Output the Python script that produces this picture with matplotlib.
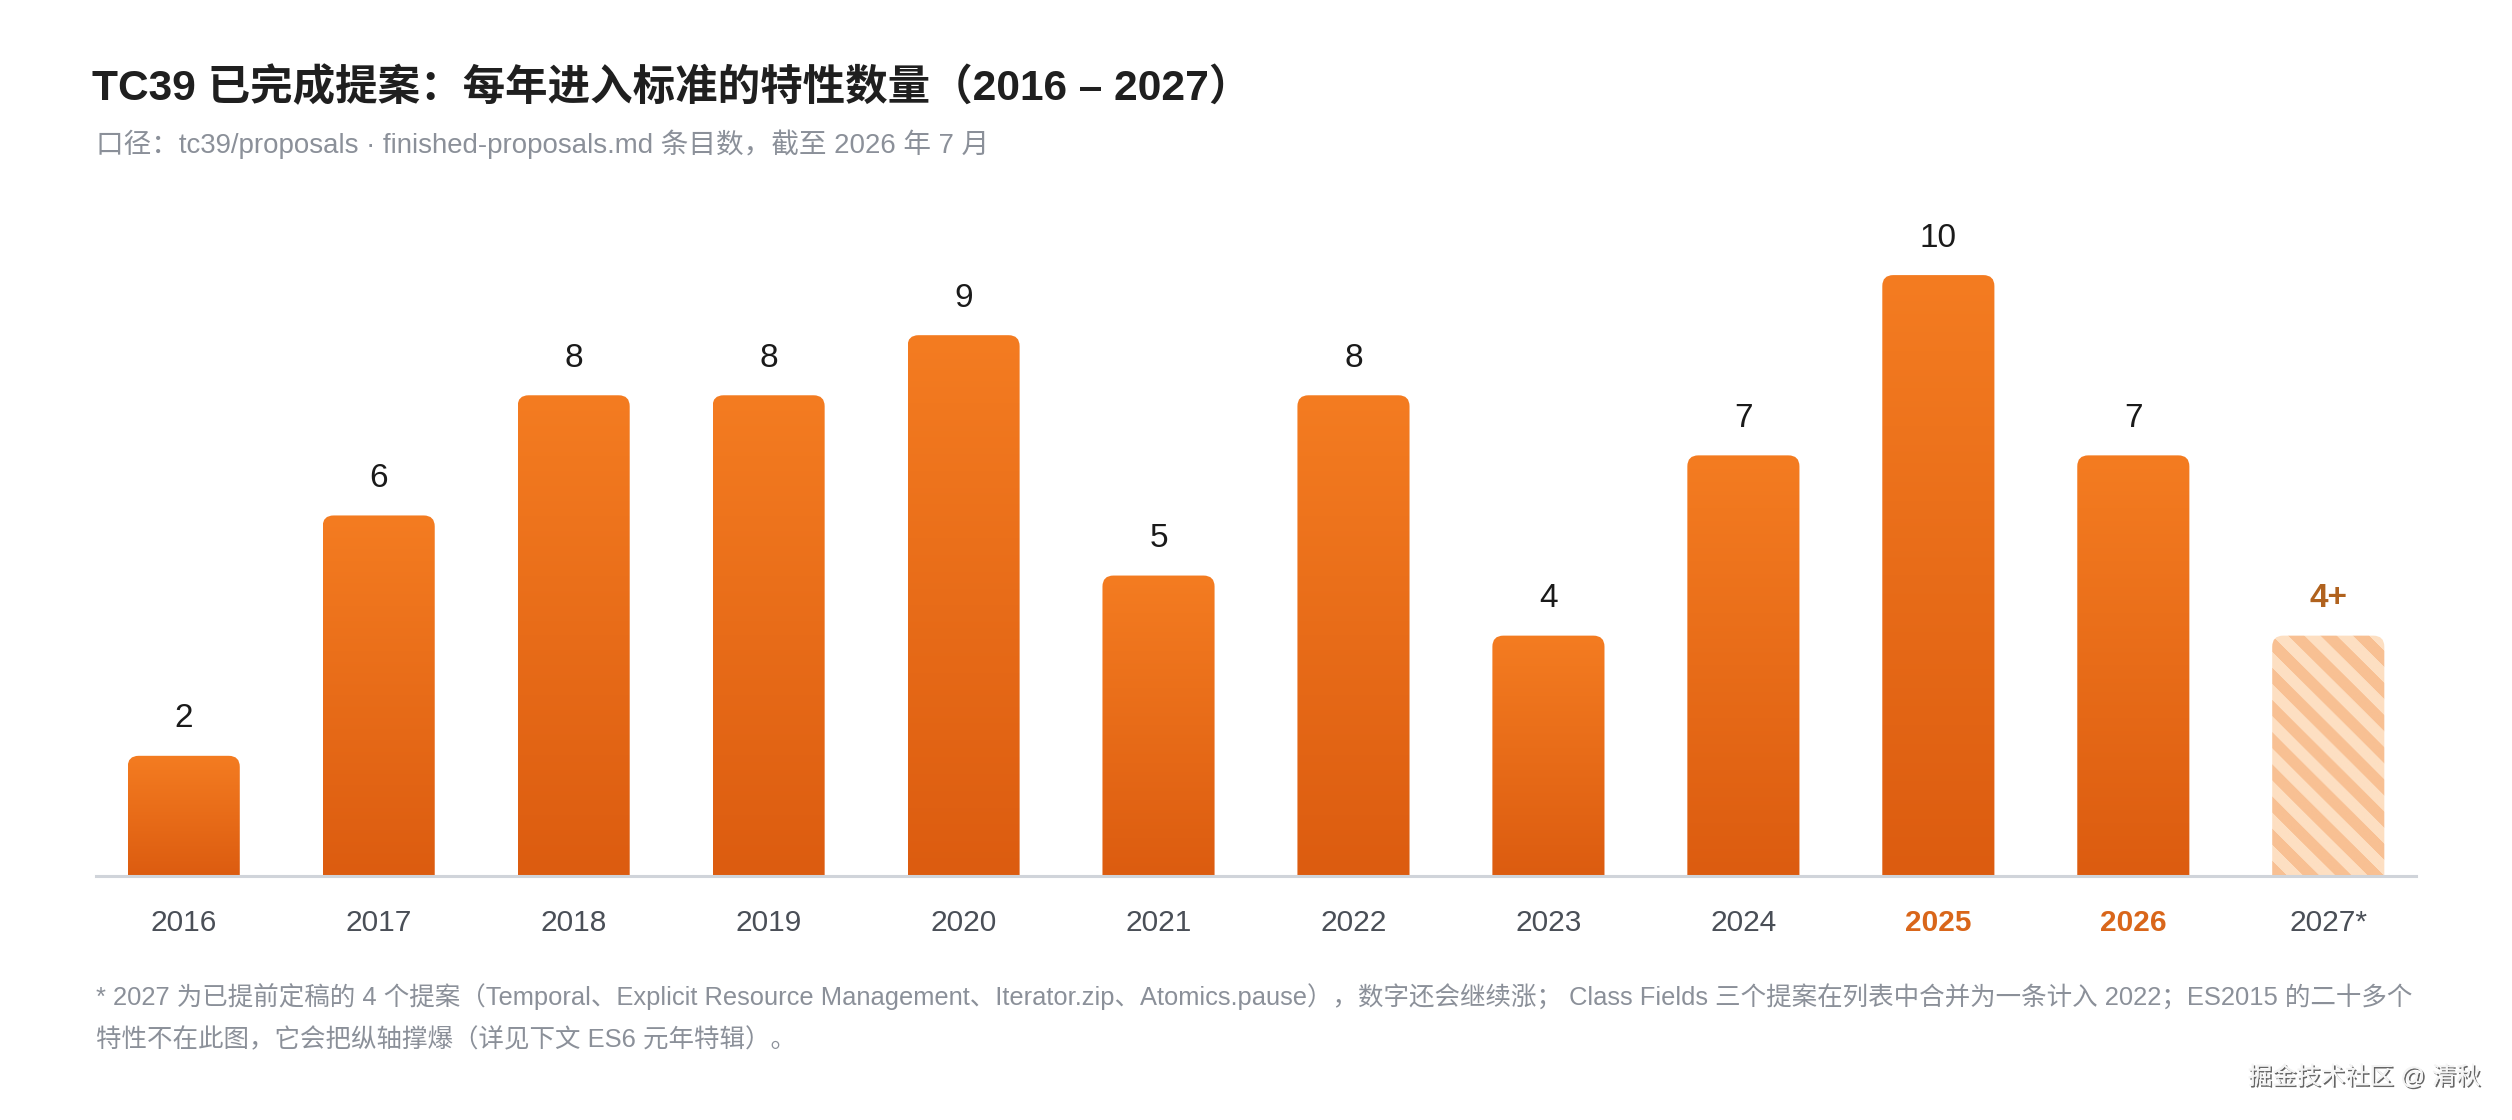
import numpy as np
import matplotlib
matplotlib.use("Agg")
import matplotlib.pyplot as plt
from matplotlib.patches import FancyBboxPatch
from matplotlib.transforms import IdentityTransform
from matplotlib.colors import to_rgb
import matplotlib.patheffects as pe

# ---------------- data ----------------
years = ["2016", "2017", "2018", "2019", "2020", "2021",
         "2022", "2023", "2024", "2025", "2026", "2027*"]
counts = [2, 6, 8, 8, 9, 5, 8, 4, 7, 10, 7, 4]
value_labels = ["2", "6", "8", "8", "9", "5", "8", "4", "7", "10", "7", "4+"]
projected = [False] * 11 + [True]
highlight_years = ["2025", "2026"]

title = "TC39 已完成提案：每年进入标准的特性数量（2016 – 2027）"
subtitle = "口径：tc39/proposals · finished-proposals.md 条目数，截至 2026 年 7 月"
foot1 = ("* 2027 为已提前定稿的 4 个提案（Temporal、Explicit Resource Management、Iterator.zip、"
         "Atomics.pause），数字还会继续涨； Class Fields 三个提案在列表中合并为一条计入 2022；ES2015 的二十多个")
foot2 = "特性不在此图，它会把纵轴撑爆（详见下文 ES6 元年特辑）。"
watermark = "掘金技术社区 @ 清秋"

# ---------------- style ----------------
plt.rcParams["font.family"] = ["Liberation Sans", "Noto Sans CJK SC", "DejaVu Sans"]
TOP_C = to_rgb("#F47C21")
BOT_C = to_rgb("#DC5C10")
STRIPE_LIGHT = to_rgb("#FDDFC2")
STRIPE_DARK = to_rgb("#F8C093")
W, H = 2512, 1120
DPI = 100

fig = plt.figure(figsize=(W / DPI, H / DPI), dpi=DPI)
fig.patch.set_facecolor("white")
ax = fig.add_axes([96 / W, 244 / H, 2320 / W, 661 / H])

x = np.arange(len(years))
bar_w = 0.575
bars = ax.bar(x, counts, width=bar_w, color="none", edgecolor="none")
ax.set_xlim(-0.45, 11.45)
ax.set_ylim(0, 11)

radius = 11  # px
grad = np.linspace(0, 1, 256)[:, None, None]
grad_img = (1 - grad) * np.array(TOP_C)[None, None, :] + grad * np.array(BOT_C)[None, None, :]

for b, proj in zip(bars, projected):
    x0 = b.get_x()
    x1 = x0 + b.get_width()
    h = b.get_height()
    (px0, py0), (px1, py1) = ax.transData.transform([(x0, 0), (x1, h)])
    clip = FancyBboxPatch((px0, py0 - 3 * radius), px1 - px0, (py1 - py0) + 3 * radius,
                          boxstyle=f"round,pad=0,rounding_size={radius}",
                          transform=IdentityTransform())
    if not proj:
        im = ax.imshow(grad_img, extent=(x0, x1, 0, h), aspect="auto",
                       origin="upper", interpolation="bilinear", zorder=2)
    else:
        wpx = int(round(px1 - px0))
        hpx = int(round(py1 - py0))
        cols = np.arange(wpx)[None, :]
        rows = np.arange(hpx)[:, None]
        half = 16
        mask = ((cols - rows) // half) % 2
        img = np.where(mask[..., None] == 0, np.array(STRIPE_LIGHT), np.array(STRIPE_DARK))
        im = ax.imshow(img, extent=(x0, x1, 0, h), aspect="auto",
                       origin="upper", interpolation="antialiased", zorder=2)
    im.set_clip_path(clip)

ax.set_xlim(-0.45, 11.45)
ax.set_ylim(0, 11)

# value labels
for xi, v, lab, proj in zip(x, counts, value_labels, projected):
    ax.annotate(lab, xy=(xi, v), xytext=(0, 37), textcoords="offset pixels",
                ha="center", va="center", fontsize=24,
                color="#B0621E" if proj else "#1A1A1A",
                fontweight="bold" if proj else "medium", zorder=5)

# axes style
for s in ["top", "right", "left"]:
    ax.spines[s].set_visible(False)
ax.spines["bottom"].set_color("#D0D4DA")
ax.spines["bottom"].set_linewidth(2.2)
ax.spines["bottom"].set_zorder(4)
ax.set_yticks([])
ax.set_xticks(x, years)
ax.tick_params(axis="x", length=0, pad=34, labelsize=21.5, labelcolor="#4A4F57")
for lbl in ax.get_xticklabels():
    lbl.set_va("center")
    if lbl.get_text() in highlight_years:
        lbl.set_color("#D9661A")
        lbl.set_fontweight("bold")
ax.set_facecolor("none")

# texts
fig.text(92 / W, 1 - 88 / H, title, fontsize=30.6, fontweight="bold",
         color="#1F1F1F", ha="left", va="center")
fig.text(96 / W, 1 - 144 / H, subtitle, fontsize=19.9, color="#8B9099",
         ha="left", va="center")
fig.text(96 / W, 1 - 997 / H, foot1, fontsize=18.35, color="#8B9099",
         ha="left", va="center")
fig.text(96 / W, 1 - 1040 / H, foot2, fontsize=18.35, color="#8B9099",
         ha="left", va="center")
fig.text(2480 / W, 1 - 1077 / H, watermark, fontsize=17.5, color="#F4F4F4",
         ha="right", va="center",
         path_effects=[pe.withSimplePatchShadow(offset=(1.2, -1.2), shadow_rgbFace="#555555", alpha=0.9),
                       pe.Normal()])

fig.savefig("out.png", dpi=DPI, facecolor="white")
